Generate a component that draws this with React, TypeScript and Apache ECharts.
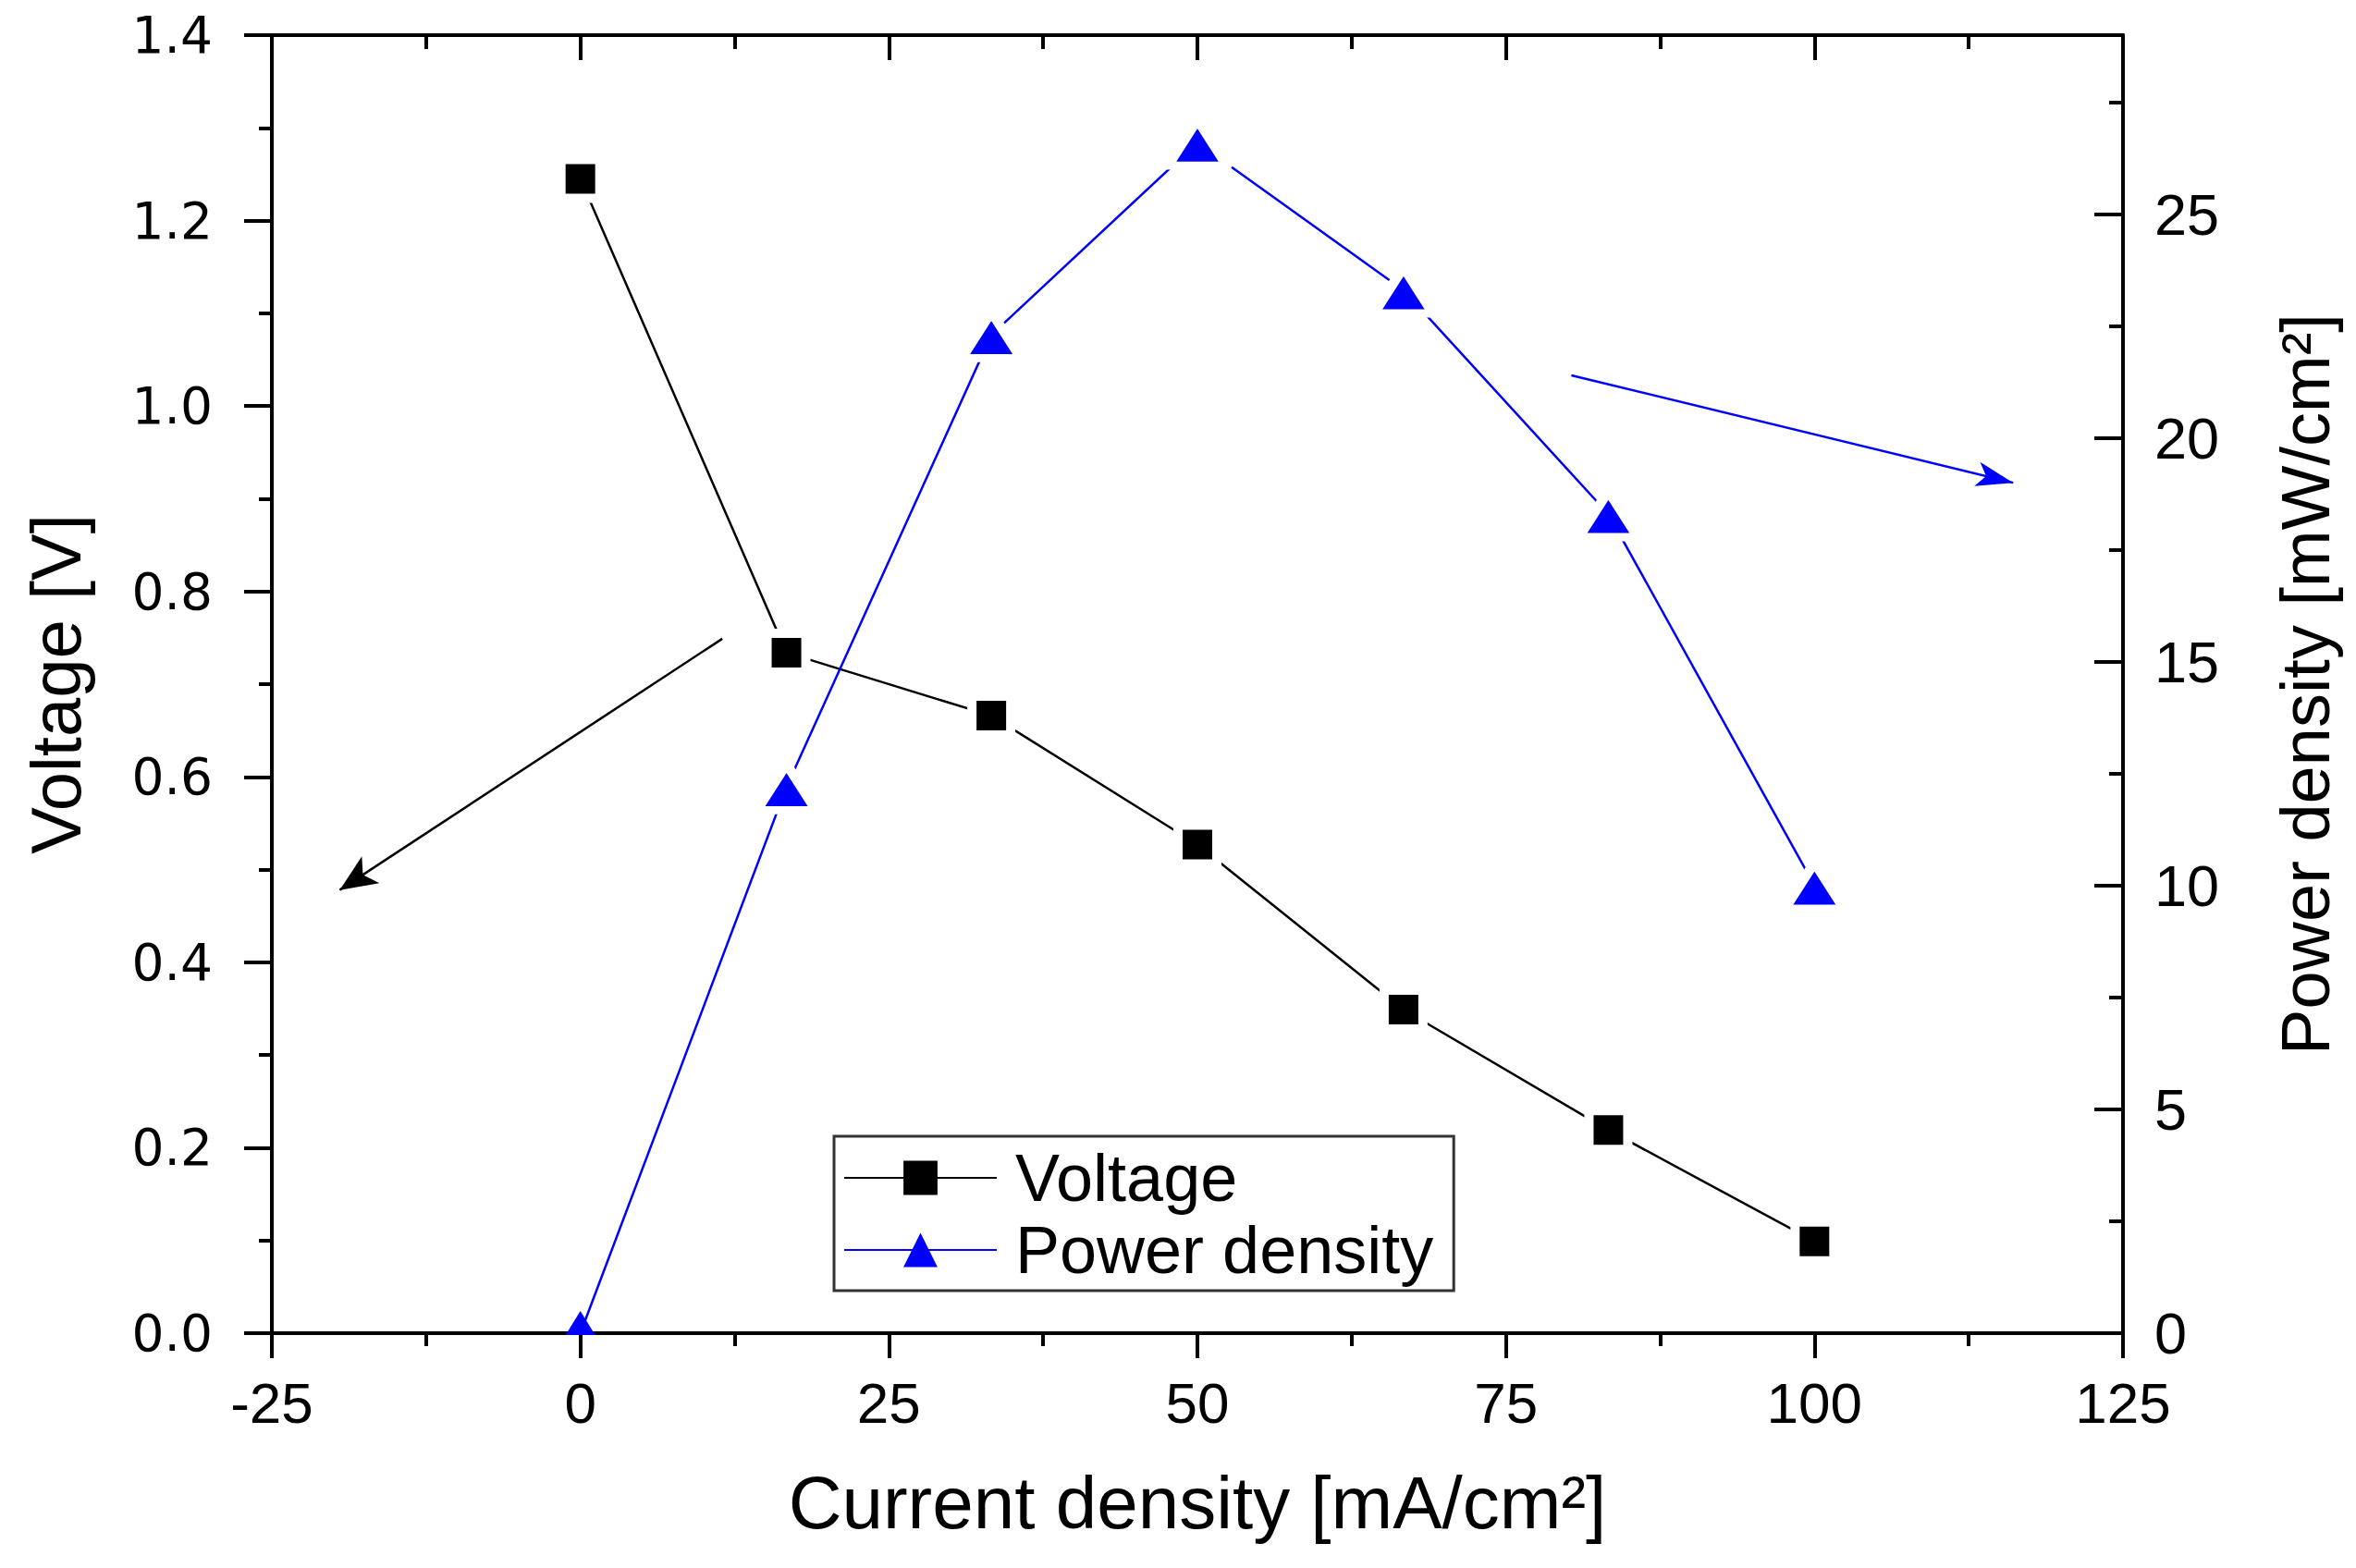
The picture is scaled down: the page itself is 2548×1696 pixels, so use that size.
import React, { useEffect, useRef } from 'react';
import * as echarts from 'echarts';

// ---- data ----
const currentDensity = [0, 16.7, 33.3, 50, 66.7, 83.3, 100];
const voltage = [1.245, 0.734, 0.666, 0.527, 0.349, 0.219, 0.099];
const powerDensity = [0, 12.2, 22.3, 26.6, 23.3, 18.3, 10.0];
const seriesNames = ['Voltage', 'Power density'];
// annotation arrows (data coordinates: [current density, value])
const voltageArrow = [[11.5, 0.749], [-19.5, 0.478]];
const powerArrow = [[80.3, 21.4], [116.1, 19.0]];
// axis ranges
const xRange = { min: -25, max: 125, interval: 25 };
const vRange = { min: 0, max: 1.4, interval: 0.2 };
const pRange = { min: 0, max: 29, interval: 5 };

const W = 2548;
const H = 1696;

export default function App() {
  const ref = useRef<HTMLDivElement>(null);

  useEffect(() => {
    document.body.style.margin = '0';
    if (!ref.current) return;
    const chart = echarts.init(ref.current, undefined, { renderer: 'svg' });

    const black = '#000';
    const blue = '#0000ff';
    const axisLine = { show: true, onZero: false, lineStyle: { color: black, width: 4 } };
    const tickStyle = { color: black, width: 4 };
    const titleStyle = { fontFamily: 'Liberation Sans', fontSize: 76, color: black };

    const powerPoints = currentDensity.map((x, i) => {
      if (powerDensity[i] === 0) {
        return {
          value: [x, powerDensity[i]],
          symbolSize: [32, 26],
          symbolOffset: [0, -11],
          itemStyle: { borderWidth: 0 },
        };
      }
      return [x, powerDensity[i]];
    });

    const option: any = {
      animation: false,
      backgroundColor: '#fff',
      grid: { left: 294, right: W - 2296, top: 38, bottom: H - 1442, containLabel: false },
      legend: {
        data: seriesNames,
        orient: 'vertical',
        left: 902,
        top: 1229,
        itemWidth: 165,
        itemHeight: 46,
        itemGap: 6,
        padding: [9, 22, 8, 10],
        borderColor: '#333',
        borderWidth: 3,
        selectedMode: false,
        itemStyle: { borderWidth: 0 },
        textStyle: { fontFamily: 'Liberation Sans', fontSize: 72, color: black, padding: [0, 0, 0, 15] },
      },
      xAxis: [
        {
          type: 'value',
          position: 'bottom',
          ...xRange,
          axisLine,
          axisTick: { show: true, inside: false, length: 27, lineStyle: tickStyle },
          minorTick: { show: true, splitNumber: 2, length: 14, lineStyle: tickStyle },
          splitLine: { show: false },
          minorSplitLine: { show: false },
          axisLabel: { margin: 44, fontFamily: 'Liberation Sans', fontSize: 62, color: black },
          name: 'Current density [mA/cm²]',
          nameLocation: 'middle',
          nameGap: 143,
          nameTextStyle: { ...titleStyle, fontSize: 80 },
        },
        {
          type: 'value',
          position: 'top',
          ...xRange,
          axisLine,
          axisTick: { show: true, inside: true, length: 27, lineStyle: tickStyle },
          minorTick: { show: true, splitNumber: 2, length: 15, lineStyle: tickStyle },
          splitLine: { show: false },
          axisLabel: { show: false },
        },
      ],
      yAxis: [
        {
          type: 'value',
          position: 'left',
          ...vRange,
          axisLine,
          axisTick: { show: true, inside: false, length: 30, lineStyle: tickStyle },
          minorTick: { show: true, splitNumber: 2, length: 14, lineStyle: tickStyle },
          splitLine: { show: false },
          axisLabel: {
            margin: 64,
            fontFamily: 'DejaVu Sans',
            fontSize: 55,
            color: black,
            formatter: (v: number) => v.toFixed(1),
          },
          name: 'Voltage [V]',
          nameLocation: 'middle',
          nameGap: 196,
          nameTextStyle: titleStyle,
        },
        {
          type: 'value',
          position: 'right',
          ...pRange,
          axisLine,
          axisTick: { show: true, inside: true, length: 31, lineStyle: tickStyle },
          minorTick: { show: true, splitNumber: 2, length: 15, lineStyle: tickStyle },
          splitLine: { show: false },
          axisLabel: {
            margin: 34,
            fontFamily: 'Liberation Sans',
            fontSize: 63,
            color: black,
            showMaxLabel: false,
          },
          name: 'Power density [mW/cm²]',
          nameLocation: 'middle',
          nameGap: 160,
          nameTextStyle: { ...titleStyle, fontSize: 74 },
        },
      ],
      series: [
        {
          name: seriesNames[0],
          type: 'line',
          xAxisIndex: 0,
          yAxisIndex: 0,
          data: currentDensity.map((x, i) => [x, voltage[i]]),
          symbol: 'rect',
          symbolSize: 42,
          itemStyle: { color: black, borderColor: '#fff', borderWidth: 10 },
          lineStyle: { color: black, width: 2.5 },
          markLine: {
            silent: true,
            symbol: ['none', 'arrow'],
            symbolSize: [26, 40],
            label: { show: false },
            lineStyle: { color: black, width: 2.5, type: 'solid' },
            data: [[{ coord: voltageArrow[0] }, { coord: voltageArrow[1] }]],
          },
        },
        {
          name: seriesNames[1],
          type: 'line',
          xAxisIndex: 0,
          yAxisIndex: 1,
          data: powerPoints,
          symbol: 'triangle',
          symbolSize: [64, 50],
          itemStyle: { color: blue, borderColor: '#fff', borderWidth: 10, borderJoin: 'round' },
          lineStyle: { color: blue, width: 2.5 },
          markLine: {
            silent: true,
            symbol: ['none', 'arrow'],
            symbolSize: [20, 40],
            label: { show: false },
            lineStyle: { color: blue, width: 2.5, type: 'solid' },
            data: [[{ coord: powerArrow[0] }, { coord: powerArrow[1] }]],
          },
        },
      ],
    };

    chart.setOption(option);
    return () => {
      chart.dispose();
    };
  }, []);

  return <div ref={ref} style={{ width: W, height: H, position: 'absolute', left: 0, top: 0 }} />;
}
